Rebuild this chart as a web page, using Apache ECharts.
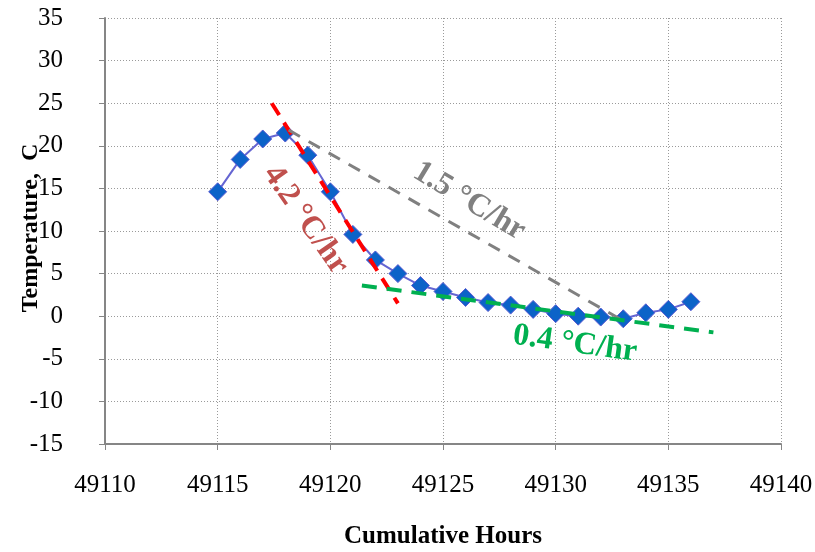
<!DOCTYPE html>
<html>
<head>
<meta charset="utf-8">
<script src="https://cdn.jsdelivr.net/npm/echarts@6/dist/echarts.min.js"></script>
<style>
  html, body { margin: 0; padding: 0; background: #fff; }
  #chart { width: 815px; height: 552px; }
</style>
</head>
<body>
<div id="chart"></div>
<script>
// Temperature readings against cumulative operating hours
const hours = [49115, 49116, 49117, 49118, 49119, 49120, 49121, 49122, 49123, 49124,
               49125, 49126, 49127, 49128, 49129, 49130, 49131, 49132, 49133, 49134,
               49135, 49136];
const temperature = [14.6, 18.4, 20.8, 21.5, 18.9, 14.6, 9.6, 6.6, 5.0, 3.6,
                     2.9, 2.2, 1.6, 1.3, 0.8, 0.3, 0.0, -0.1, -0.3, 0.4,
                     0.8, 1.7];

// Cooling-rate trend segments (endpoints in hours / degrees)
const trendFast = [[49117.4, 25.0], [49123.0, 1.5]];
const trendOverall = [[49118.15, 21.85], [49133.07, -0.65]];
const trendSlow = [[49121.4, 3.6], [49137.0, -1.9]];

// Rate annotations: text, anchor in data units, angle in degrees
const rateLabels = [
  { text: '4.2 °C/hr', at: [49118.9, 11.3], angle: 55, color: '#C0504D' },
  { text: '1.5 °C/hr', at: [49126.16, 13.5], angle: 31, color: '#808080' },
  { text: '0.4 °C/hr', at: [49130.86, -3.26], angle: 8, color: '#00B050' }
];

const xTicks = { min: 49110, max: 49140, step: 5 };
const yTicks = { min: -15, max: 35, step: 5 };

const serif = "'Liberation Serif', 'Times New Roman', serif";
const axisGray = '#868686';

const chart = echarts.init(document.getElementById('chart'), null, { renderer: 'canvas' });

function trendSeries(data, color, width, dash) {
  return {
    type: 'line',
    data: data,
    symbol: 'none',
    z: 5,
    silent: true,
    lineStyle: { color: color, width: width, type: dash, cap: 'butt' }
  };
}

chart.setOption({
  animation: false,
  backgroundColor: '#ffffff',
  grid: { left: 105, right: 34, top: 18, bottom: 108, containLabel: false, outerBoundsMode: 'none' },
  xAxis: {
    type: 'value',
    min: xTicks.min, max: xTicks.max, interval: xTicks.step,
    name: 'Cumulative Hours',
    nameLocation: 'middle',
    nameGap: 80,
    nameMoveOverlap: false,
    nameTextStyle: { fontFamily: serif, fontSize: 25, fontWeight: 'bold', color: '#000' },
    axisLine: { show: true, onZero: false, lineStyle: { color: axisGray, width: 2 } },
    axisTick: { show: true, length: 6, lineStyle: { color: axisGray, width: 1 } },
    axisLabel: { fontFamily: serif, fontSize: 25, color: '#000', margin: 29, formatter: v => String(v) },
    splitLine: { show: true, lineStyle: { color: '#9a9a9a', width: 1, type: [1, 2] } }
  },
  yAxis: {
    type: 'value',
    min: yTicks.min, max: yTicks.max, interval: yTicks.step,
    name: 'Temperature,  C',
    nameLocation: 'middle',
    nameGap: 62,
    nameMoveOverlap: false,
    nameTextStyle: { fontFamily: serif, fontSize: 24, fontWeight: 'bold', color: '#000', padding: [0, 0, 0, 6] },
    axisLine: { show: true, onZero: false, lineStyle: { color: axisGray, width: 2 } },
    axisTick: { show: true, length: 6, lineStyle: { color: axisGray, width: 1 } },
    axisLabel: { fontFamily: serif, fontSize: 25, color: '#000', margin: 42, formatter: v => String(v) },
    splitLine: { show: true, lineStyle: { color: '#9a9a9a', width: 1, type: [1, 2] } }
  },
  series: [
    {
      type: 'line',
      data: hours.map((h, i) => [h, temperature[i]]),
      symbol: 'diamond',
      symbolSize: [18, 18],
      z: 3,
      lineStyle: { color: '#6565D2', width: 2 },
      itemStyle: { color: '#0C63C8', borderColor: '#5A5AD2', borderWidth: 1 }
    },
    trendSeries(trendFast, '#FF0000', 4, [14, 9]),
    trendSeries(trendOverall, '#808080', 3, [13, 10]),
    trendSeries(trendSlow, '#00B050', 4, [15, 10])
  ]
});

// Place the rate annotations along their trend segments
chart.setOption({
  graphic: rateLabels.map(l => {
    const p = chart.convertToPixel({ gridIndex: 0 }, l.at);
    return {
      type: 'text',
      x: p[0], y: p[1],
      rotation: -l.angle * Math.PI / 180,
      z: 10,
      style: {
        text: l.text,
        fill: l.color,
        font: 'bold 32px ' + serif,
        align: 'center',
        verticalAlign: 'middle'
      }
    };
  })
});
</script>
</body>
</html>
